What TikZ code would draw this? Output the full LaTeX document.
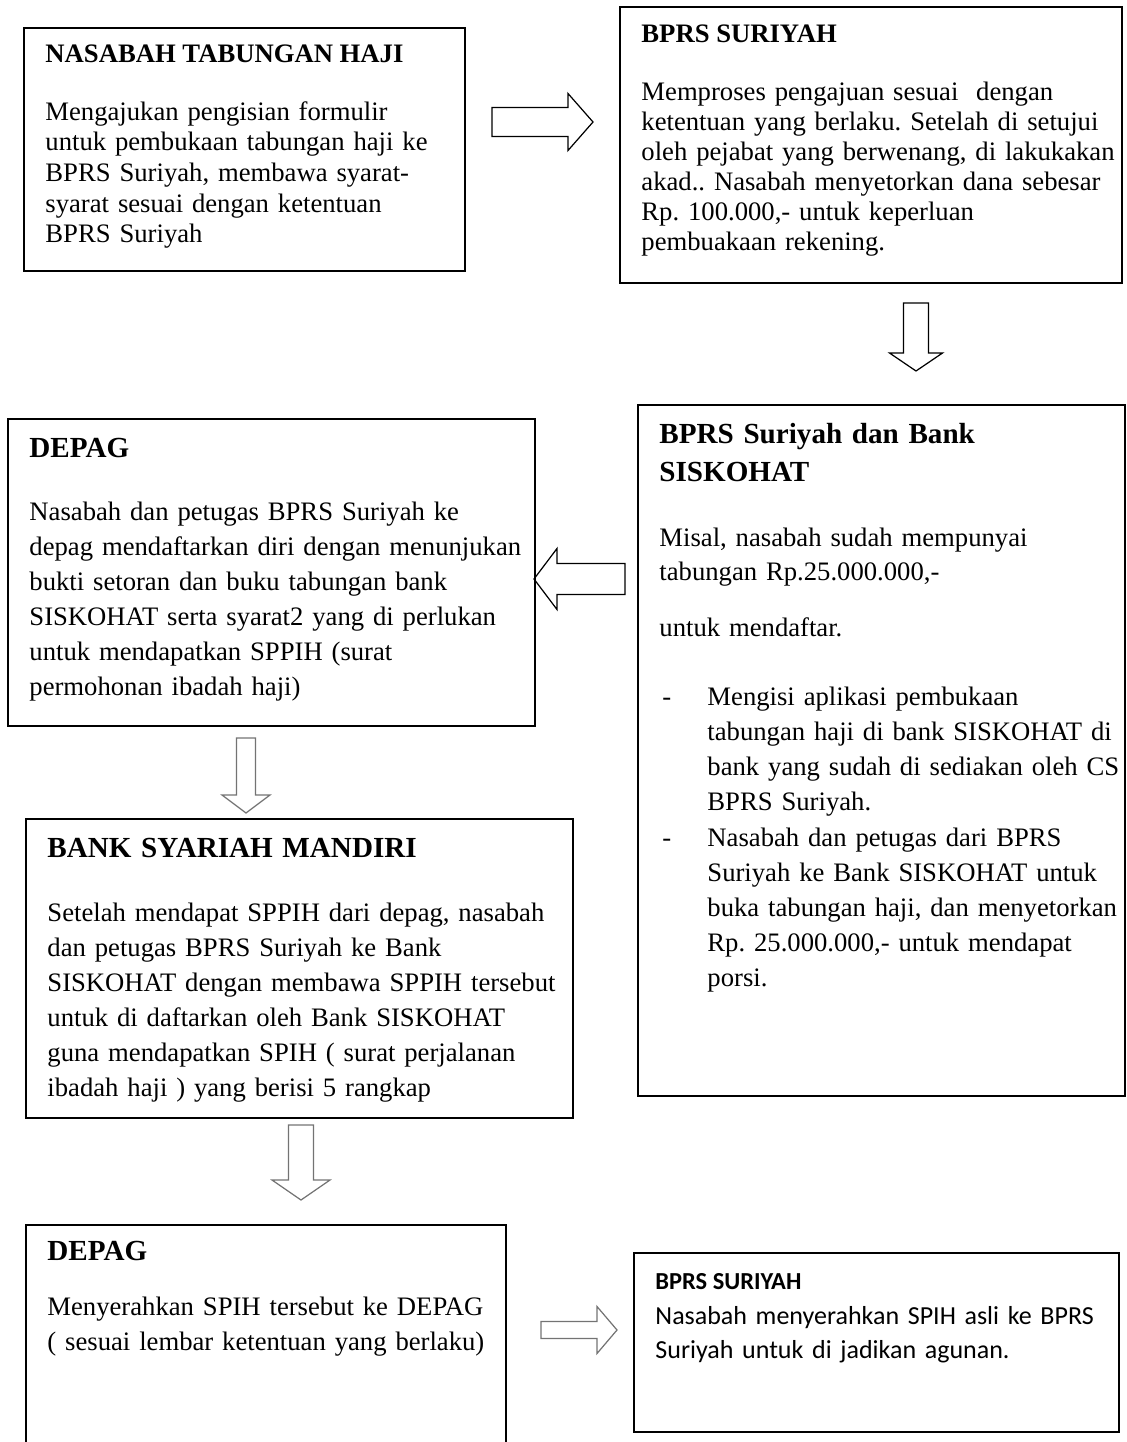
\documentclass[tikz,border=0pt]{standalone}
\usepackage{fontspec}
\setmainfont{Liberation Serif}
\newfontfamily\calibri{Carlito}
\usetikzlibrary{fit}
\frenchspacing

\tikzset{
  box/.style={draw, line width=0.7pt, inner sep=0pt},
  thickbox/.style={box, line width=1.1pt},
  head/.style={anchor=base west, inner sep=0pt, font=\fontsize{12}{13.8}\selectfont\bfseries},
  bighead/.style={anchor=base west, inner sep=0pt, align=left, text width=250pt,
    font=\fontsize{13.1}{17.1}\selectfont\bfseries},
  txt/.style={anchor=base west, inner sep=0pt, align=left, text width=250pt,
    font=\fontsize{12}{#1}\selectfont},
  txt/.default=13.8,
  grayarrow/.style={color=black!55},
  pics/fatarrow/.style args={#1/#2/#3/#4}{code={
    \draw[line width=0.55pt] (0,0) -- (-#2,#4) -- (-#2,#3) -- (-#2-#1,#3)
      -- (-#2-#1,-#3) -- (-#2,-#3) -- (-#2,-#4) -- cycle;
  }}
}

\begin{document}
\begin{tikzpicture}[x=0.45pt, y=-0.45pt]
\useasboundingbox (0,0) rectangle (1127,1442);
\clip (0,0) rectangle (1127,1442);

\node[box, fit={(24,28) (465,271)}] (nasabah) {};
\node[head] (nasabahT) at (45,63) {NASABAH TABUNGAN HAJI};
\node[txt] (nasabahB) at (45,120) {Mengajukan pengisian formulir\\
untuk pembukaan tabungan haji ke\\
BPRS Suriyah, membawa syarat-\\
syarat sesuai dengan ketentuan\\
BPRS Suriyah};

\node[thickbox, fit={(620,7) (1122,283)}] (bprs) {};
\node[head] (bprsT) at (641,43) {BPRS SURIYAH};
\node[txt=13.5] (bprsB) at (641,101) {Memproses pengajuan sesuai\ \ dengan\\
ketentuan yang berlaku. Setelah di setujui\\
oleh pejabat yang berwenang, di lakukakan\\
akad.. Nasabah menyetorkan dana sebesar\\
Rp. 100.000,- untuk keperluan\\
pembuakaan rekening.};

\pic at (593,122) {fatarrow=76/25/14.5/28.5};
\pic[rotate=-90] at (916,371) {fatarrow=50/18/12.5/26.5};

\node[thickbox, fit={(638,405) (1125,1096)}] (siskohat) {};
\node[bighead] (siskohatT) at (659,443) {BPRS Suriyah dan Bank\\SISKOHAT};
\node[txt=15.3] (siskohatB) at (659,546) {Misal, nasabah sudah mempunyai\\
tabungan Rp.25.000.000,-};
\node[txt] (siskohatC) at (659,636) {untuk mendaftar.};
\node[txt] (dash1) at (662,705) {-};
\node[txt=15.84] (item1) at (707,705) {Mengisi aplikasi pembukaan\\
tabungan haji di bank SISKOHAT di\\
bank yang sudah di sediakan oleh CS\\
BPRS Suriyah.};
\node[txt] (dash2) at (662,846) {-};
\node[txt=15.84] (item2) at (707,846) {Nasabah dan petugas dari BPRS\\
Suriyah ke Bank SISKOHAT untuk\\
buka tabungan haji, dan menyetorkan\\
Rp. 25.000.000,- untuk mendapat\\
porsi.};

\pic[rotate=180] at (534,579) {fatarrow=68/23/15.5/30.5};

\node[box, fit={(8,419) (535,726)}] (depag) {};
\node[bighead] (depagT) at (29,457) {DEPAG};
\node[txt=15.75] (depagB) at (29,520) {Nasabah dan petugas BPRS Suriyah ke\\
depag mendaftarkan diri dengan menunjukan\\
bukti setoran dan buku tabungan bank\\
SISKOHAT serta syarat2 yang di perlukan\\
untuk mendapatkan SPPIH (surat\\
permohonan ibadah haji)};

\pic[grayarrow, rotate=-90] at (246,813) {fatarrow=57/18/9.5/24};

\node[box, fit={(26,819) (573,1118)}] (mandiri) {};
\node[bighead] (mandiriT) at (47,857) {BANK SYARIAH MANDIRI};
\node[txt=15.75] (mandiriB) at (47,921) {Setelah mendapat SPPIH dari depag, nasabah\\
dan petugas BPRS Suriyah ke Bank\\
SISKOHAT dengan membawa SPPIH tersebut\\
untuk di daftarkan oleh Bank SISKOHAT\\
guna mendapatkan SPIH ( surat perjalanan\\
ibadah haji ) yang berisi 5 rangkap};

\pic[grayarrow, rotate=-90] at (301,1200) {fatarrow=55/20/12.5/29};

\node[box, fit={(26,1225) (506,1470)}] (depag2) {};
\node[bighead] (depag2T) at (47,1260) {DEPAG};
\node[txt=15.75] (depag2B) at (47,1315) {Menyerahkan SPIH tersebut ke DEPAG\\
( sesuai lembar ketentuan yang berlaku)};

\pic[grayarrow] at (617,1330) {fatarrow=56/20/8.5/23.5};

\node[box, fit={(634,1253) (1119,1432)}] (bprs2) {};
\node[head, font=\calibri\fontsize{11}{13}\selectfont\bfseries] (bprs2T) at (655,1289) {BPRS SURIYAH};
\node[txt=15.3, font=\calibri\fontsize{11.7}{15.3}\selectfont] (bprs2B) at (655,1324) {Nasabah menyerahkan SPIH asli ke BPRS\\
Suriyah untuk di jadikan agunan.};
\end{tikzpicture}
\end{document}
